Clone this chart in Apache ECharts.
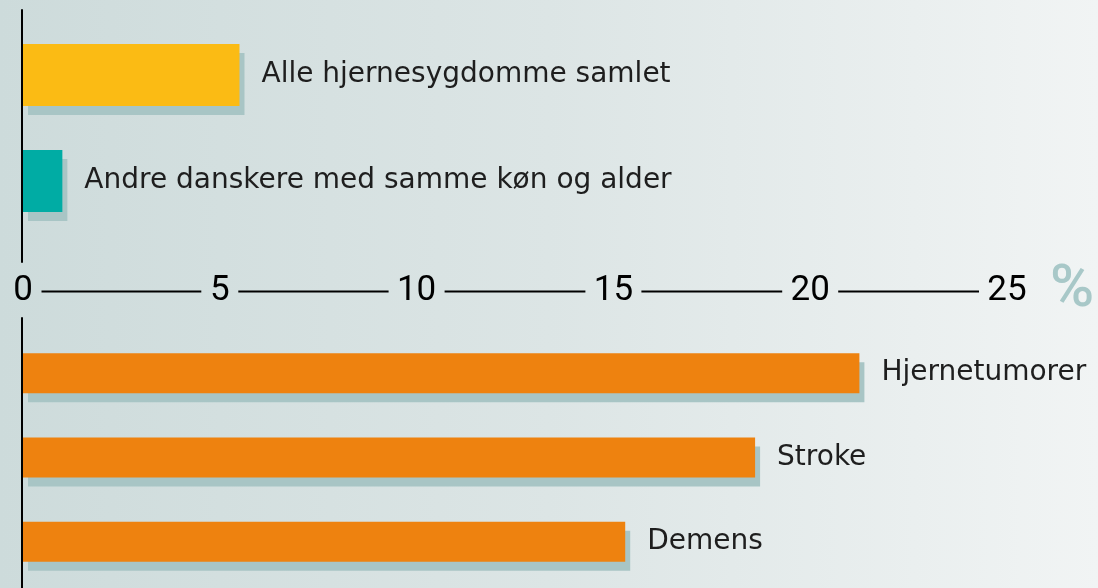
<!DOCTYPE html>
<html>
<head>
<meta charset="utf-8">
<script src="https://cdn.jsdelivr.net/npm/echarts@6/dist/echarts.min.js"></script>
<style>
html,body{margin:0;padding:0;width:1098px;height:588px;overflow:hidden;
background:linear-gradient(to right,#cddbdb 0%,#dce5e5 50%,#f1f4f4 100%);}
#c{width:1098px;height:588px;}
</style>
</head>
<body>
<div id="c"></div>
<script>
// Data
const topCategories = ['Alle hjernesygdomme samlet', 'Andre danskere med samme køn og alder'];
const topValues = [5.5, 1.0];
const topColors = ['#fbbb14', '#00aca4'];
const bottomCategories = ['Hjernetumorer', 'Stroke', 'Demens'];
const bottomValues = [21.25, 18.6, 15.3];
const tickValues = [0, 5, 10, 15, 20, 25];
const axisUnit = '%';

const chart = echarts.init(document.getElementById('c'), null, {renderer: 'canvas'});

const labelFont = {fontFamily: 'DejaVu Sans', fontSize: 28, color: '#1e1e1e'};
const shadow = {shadowColor: '#a8c5c5', shadowBlur: 0, shadowOffsetX: 5, shadowOffsetY: 9};

// segments between ticks for middle axis line
const segs = [];
for (let i = 0; i < tickValues.length - 1; i++) segs.push([tickValues[i], tickValues[i + 1]]);

function halfW(v) { return String(v).length * 9.5 + 9; }

const option = {
  backgroundColor: 'transparent',
  animation: false,
  grid: [
    {left: 23, width: 984, top: 22, height: 212},
    {left: 23, width: 984, top: 331, height: 253},
    {left: 23, width: 984, top: 271, height: 20},
    {left: 22, width: 984, top: 10, height: 252},
    {left: 22, width: 984, top: 318, height: 270}
  ],
  xAxis: [
    {gridIndex: 0, type: 'value', min: 0, max: 25, show: false},
    {gridIndex: 1, type: 'value', min: 0, max: 25, show: false},
    {gridIndex: 2, type: 'value', min: 0, max: 25, interval: 5, position: 'bottom',
      axisLine: {show: false}, axisTick: {show: false}, splitLine: {show: false},
      axisLabel: {show: true, margin: 0, verticalAlign: 'middle', fontFamily: 'Roboto', fontWeight: 400, fontSize: 35, color: '#000',
        formatter: function (v) { return tickValues.indexOf(v) >= 0 ? String(v) : ''; }},
      name: axisUnit, nameLocation: 'end', nameGap: 43,
      nameTextStyle: {fontFamily: 'Roboto', fontSize: 60, fontWeight: 500, color: '#a8c8c8', verticalAlign: 'middle', padding: [12, 0, 0, 0]}},
    {gridIndex: 3, type: 'value', min: 0, max: 25, show: false},
    {gridIndex: 4, type: 'value', min: 0, max: 25, show: false}
  ],
  yAxis: [
    {gridIndex: 0, type: 'category', data: topCategories, inverse: true, show: false},
    {gridIndex: 1, type: 'category', data: bottomCategories, inverse: true, show: false},
    {gridIndex: 2, type: 'value', min: 0, max: 1, show: false},
    {gridIndex: 3, type: 'value', min: 0, max: 1, show: true, axisLabel: {show: false}, axisTick: {show: false}, splitLine: {show: false},
      axisLine: {show: true, lineStyle: {color: '#000', width: 2}}},
    {gridIndex: 4, type: 'value', min: 0, max: 1, show: true, axisLabel: {show: false}, axisTick: {show: false}, splitLine: {show: false},
      axisLine: {show: true, lineStyle: {color: '#000', width: 2}}}
  ],
  series: [
    {
      type: 'bar', xAxisIndex: 0, yAxisIndex: 0, barWidth: 62,
      data: topValues.map((v, i) => ({value: v, itemStyle: Object.assign({color: topColors[i]}, shadow)})),
      label: Object.assign({show: true, position: 'right', distance: 22, formatter: p => topCategories[p.dataIndex]}, labelFont)
    },
    {
      type: 'bar', xAxisIndex: 1, yAxisIndex: 1, barWidth: 40,
      data: bottomValues,
      itemStyle: Object.assign({color: '#ee820f'}, shadow),
      label: Object.assign({show: true, position: 'right', distance: 22, formatter: p => bottomCategories[p.dataIndex]}, labelFont)
    },
    {
      type: 'custom', xAxisIndex: 2, yAxisIndex: 2, silent: true,
      data: segs,
      renderItem: function (params, api) {
        const a = api.value(0), b = api.value(1);
        const p1 = api.coord([a, 0]);
        const p2 = api.coord([b, 0]);
        return {
          type: 'line',
          shape: {x1: p1[0] + halfW(a), y1: p1[1] + 0.5, x2: p2[0] - halfW(b), y2: p2[1] + 0.5},
          style: {stroke: '#000', lineWidth: 2}
        };
      }
    }
  ]
};
chart.setOption(option);
</script>
</body>
</html>
